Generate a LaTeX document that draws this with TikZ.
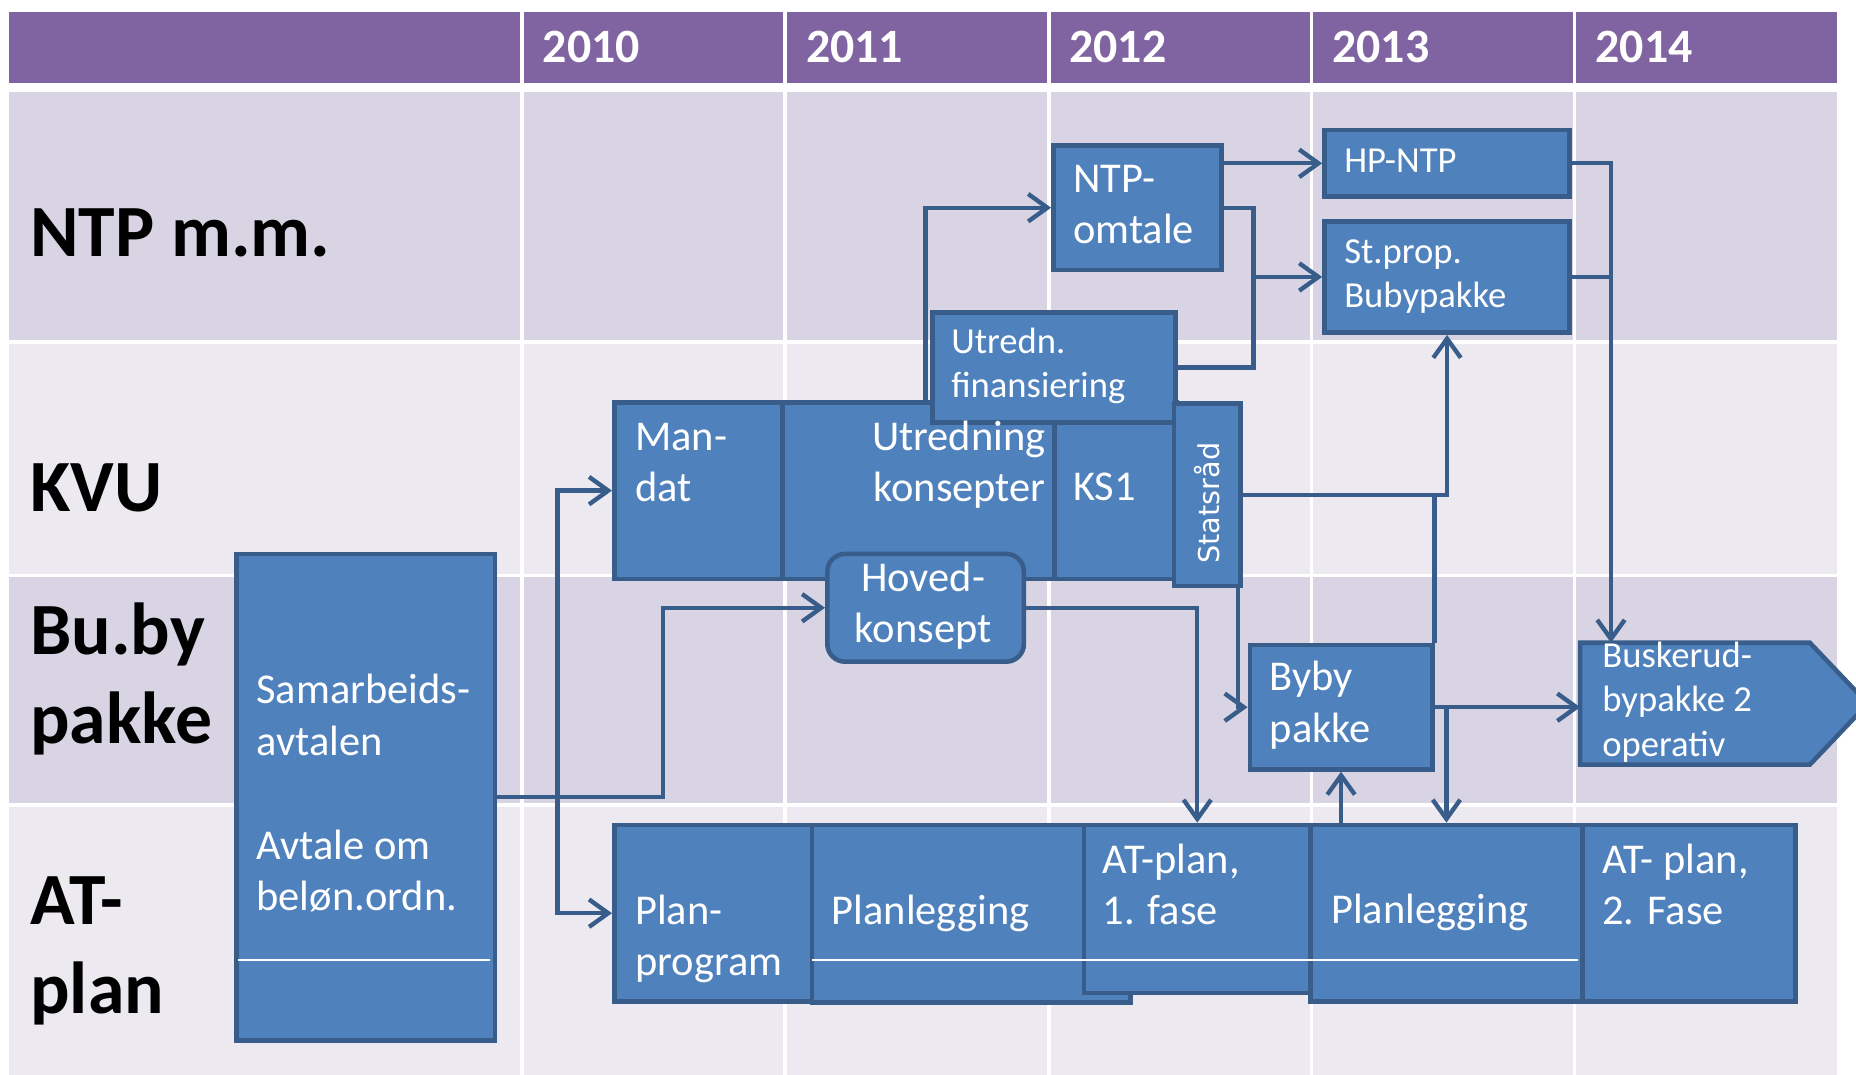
\documentclass[tikz,border=0pt]{standalone}
\usepackage{fontspec}
\setmainfont{Carlito}
\newfontfamily\statsfont{DejaVu Sans}
\usetikzlibrary{arrows.meta}

\definecolor{hdrpurple}{RGB}{128,100,162}
\definecolor{banddark}{RGB}{216,212,227}
\definecolor{bandlight}{RGB}{236,234,240}
\definecolor{boxblue}{RGB}{79,129,189}
\definecolor{boxedge}{RGB}{56,93,138}

\tikzset{
  box/.style={draw=boxedge, fill=boxblue, line width=1.1pt, inner sep=0pt, anchor=north west},
  boxtext/.style={text=white, font=\fontsize{10.2}{12.3}\selectfont, anchor=base west, inner sep=0pt, align=left},
  smalltext/.style={boxtext, font=\fontsize{8.8}{10.7}\selectfont},
  rowlabel/.style={font=\fontsize{17.7}{21.3}\selectfont\bfseries, anchor=base west, inner sep=0pt, align=left},
  yearlabel/.style={text=white, font=\fontsize{11.5}{13}\selectfont\bfseries, anchor=base west, inner sep=0pt},
  link/.style={draw=boxedge, line width=1.05pt, -{Straight Barb[length=4.6pt,width=6.6pt]}},
  wire/.style={draw=boxedge, line width=1.05pt},
}

\begin{document}
\begin{tikzpicture}[x=0.01cm, y=-0.01cm]

    \useasboundingbox (0,0) rectangle (1568,908);
    \clip (0,0) rectangle (1568,908);

    \begin{scope}[]
    \fill[hdrpurple] (8,10) rectangle (1552,70);
    \fill[banddark]  (8,78) rectangle (1552,289);
    \fill[bandlight] (8,289) rectangle (1552,486);
    \fill[banddark]  (8,486) rectangle (1552,680);
    \fill[bandlight] (8,680) rectangle (1552,908);
    \draw[white, line width=0.8pt] (8,289) -- (1552,289) (8,486) -- (1552,486) (8,680) -- (1552,680);
    \foreach \x in {441,663,886,1108,1330}
        \draw[white, line width=0.85pt] (\x,10) -- (\x,908);
    \end{scope}

    \foreach \yr [count=\i] in {2010,2011,2012,2013,2014}
        \node[yearlabel] (yr\yr) at (458+222.3*\i-222.3,53) {\yr};

    % multi-line texts sit on the baseline of their last line
    \node[rowlabel] (ntp) at (25,217) {NTP m.m.};
    \node[rowlabel] (kvu) at (25,432) {KVU};
    \node[rowlabel] (buby) at (25,628) {Bu.by\\pakke};
    \node[rowlabel] (atp) at (25,856) {AT-\\plan};



    \begin{scope}[]
    \node[box, minimum width=2.18cm, minimum height=4.11cm] (samar) at (198,466) {};
    \node[boxtext] (samar-a) at (216,638) {Samarbeids-\\avtalen};
    \node[boxtext] (samar-b) at (216,769) {Avtale om\\beløn.ordn.};
    \end{scope}

    \begin{scope}[]
    \node[box, minimum width=1.42cm, minimum height=1.49cm] (mandat) at (517,338) {};
    \node[box, minimum width=2.30cm, minimum height=1.49cm] (utred) at (659,338) {};
    \node[box, minimum width=1.03cm, minimum height=1.49cm] (ks1) at (889,338) {};
    \node[box, minimum width=2.05cm, minimum height=0.93cm] (finans) at (786,262) {};
    \node[box, minimum width=0.56cm, minimum height=1.54cm] (stats) at (990,339) {};
    \node[box, rounded corners=0.15cm, minimum width=1.66cm, minimum height=0.91cm] (hoved) at (697,466) {};

    \node[boxtext] (mandat-t) at (536,424) {Man-\\dat};
    \node[boxtext, anchor=base east, align=right] (utred-t) at (884,424) {Utredning\\konsepter};
    \node[boxtext] (ks1-t) at (906,423) {KS1};
    \node[smalltext] (finans-t) at (803,336) {Utredn.\\finansiering};
    \node[text=white, font=\statsfont\fontsize{6.9}{8}\selectfont, rotate=90, inner sep=0pt] (stats-t) at (1020,425) {Statsråd};
    \node[boxtext, anchor=base, align=center] (hoved-t) at (780,543) {Hoved-\\konsept};
    \end{scope}

    \begin{scope}[]
    \node[box, minimum width=1.42cm, minimum height=1.05cm] (omtale) at (888,121) {};
    \node[box, minimum width=2.07cm, minimum height=0.56cm] (hpntp) at (1117,108) {};
    \node[box, minimum width=2.07cm, minimum height=0.94cm] (stprop) at (1117,185) {};
    \node[boxtext] (omtale-t) at (906,206) {NTP-\\omtale};
    \node[smalltext] (hpntp-t) at (1135,146) {HP-NTP};
    \node[smalltext] (stprop-t) at (1135,260) {St.prop.\\Bubypakke};
    \end{scope}

    \begin{scope}[]
    \node[box, minimum width=1.54cm, minimum height=1.05cm] (byby) at (1054,543) {};
    \node[boxtext] (byby-t) at (1072,627) {Byby\\pakke};
    \draw[boxedge, fill=boxblue, line width=1.1pt] (1335,543) -- (1529,543) -- (1578,594.5) -- (1529,646) -- (1335,646) -- cycle;
    \coordinate (busk) at (1335,594.5);
    \coordinate (buskin) at (1361,543);
    \node[smalltext] (busk-t) at (1353,639) {Buskerud-\\bypakke 2\\operativ};
    \end{scope}

    \begin{scope}[]
    \node[box, minimum width=1.67cm, minimum height=1.49cm] (planprog) at (517,695) {};
    \node[box, minimum width=2.69cm, minimum height=1.50cm] (planl1) at (684,695) {};
    \node[box, minimum width=1.91cm, minimum height=1.42cm] (atplan1) at (914,695) {};
    \node[box, minimum width=2.30cm, minimum height=1.49cm] (planl2) at (1105,695) {};
    \node[box, minimum width=1.80cm, minimum height=1.49cm] (atplan2) at (1335,695) {};
    \draw[white, line width=0.4pt] (201,811) -- (414,811) (686,811) -- (1333,811);

    \node[boxtext] (planprog-t) at (536,824) {Plan-\\program};
    \node[boxtext] (planl1-t) at (702,781) {Planlegging};
    \node[boxtext] (atplan1-t) at (931,781) {AT-plan,\\1. fase};
    \node[boxtext] (planl2-t) at (1124,780) {Planlegging};
    \node[boxtext] (atplan2-t) at (1353,781) {AT- plan,\\2. Fase};
    \end{scope}



    \draw[link] (samar.east) -- ++(140,0) |- (hoved.west);
    \draw[link] (samar.east) -- ++(51,0) coordinate (sj) |- (mandat.west);
    \draw[link] (sj) |- (planprog.west);

    \draw[link] (hoved.north |- utred.north) |- (omtale.west);
    \draw[link] (omtale.east |- hpntp.west) -- (hpntp.west);
    \draw[link] (omtale.east) -- ++(25,0) coordinate (fj) |- (stprop.west);
    \draw[wire] (finans.east) -| (fj);

    \draw[link] (stats.east) -| (stprop.south);
    \draw[wire] (byby.north east) -- (byby.north east |- stats.east);
    \draw[link] ([xshift=-0.04cm]stats.south east) |- (byby.west);

    \draw[link] (hoved.east) -| (atplan1.north);
    \draw[link] (byby.south |- planl2.north) -- (byby.south);
    \draw[link] (byby.east) -- (byby.east -| busk);
    \draw[link] (byby.east) -| (planl2.north);

    \draw[link] (hpntp.east) -| (buskin);
    \draw[wire] (stprop.east) -- (stprop.east -| buskin);

\end{tikzpicture}
\end{document}
